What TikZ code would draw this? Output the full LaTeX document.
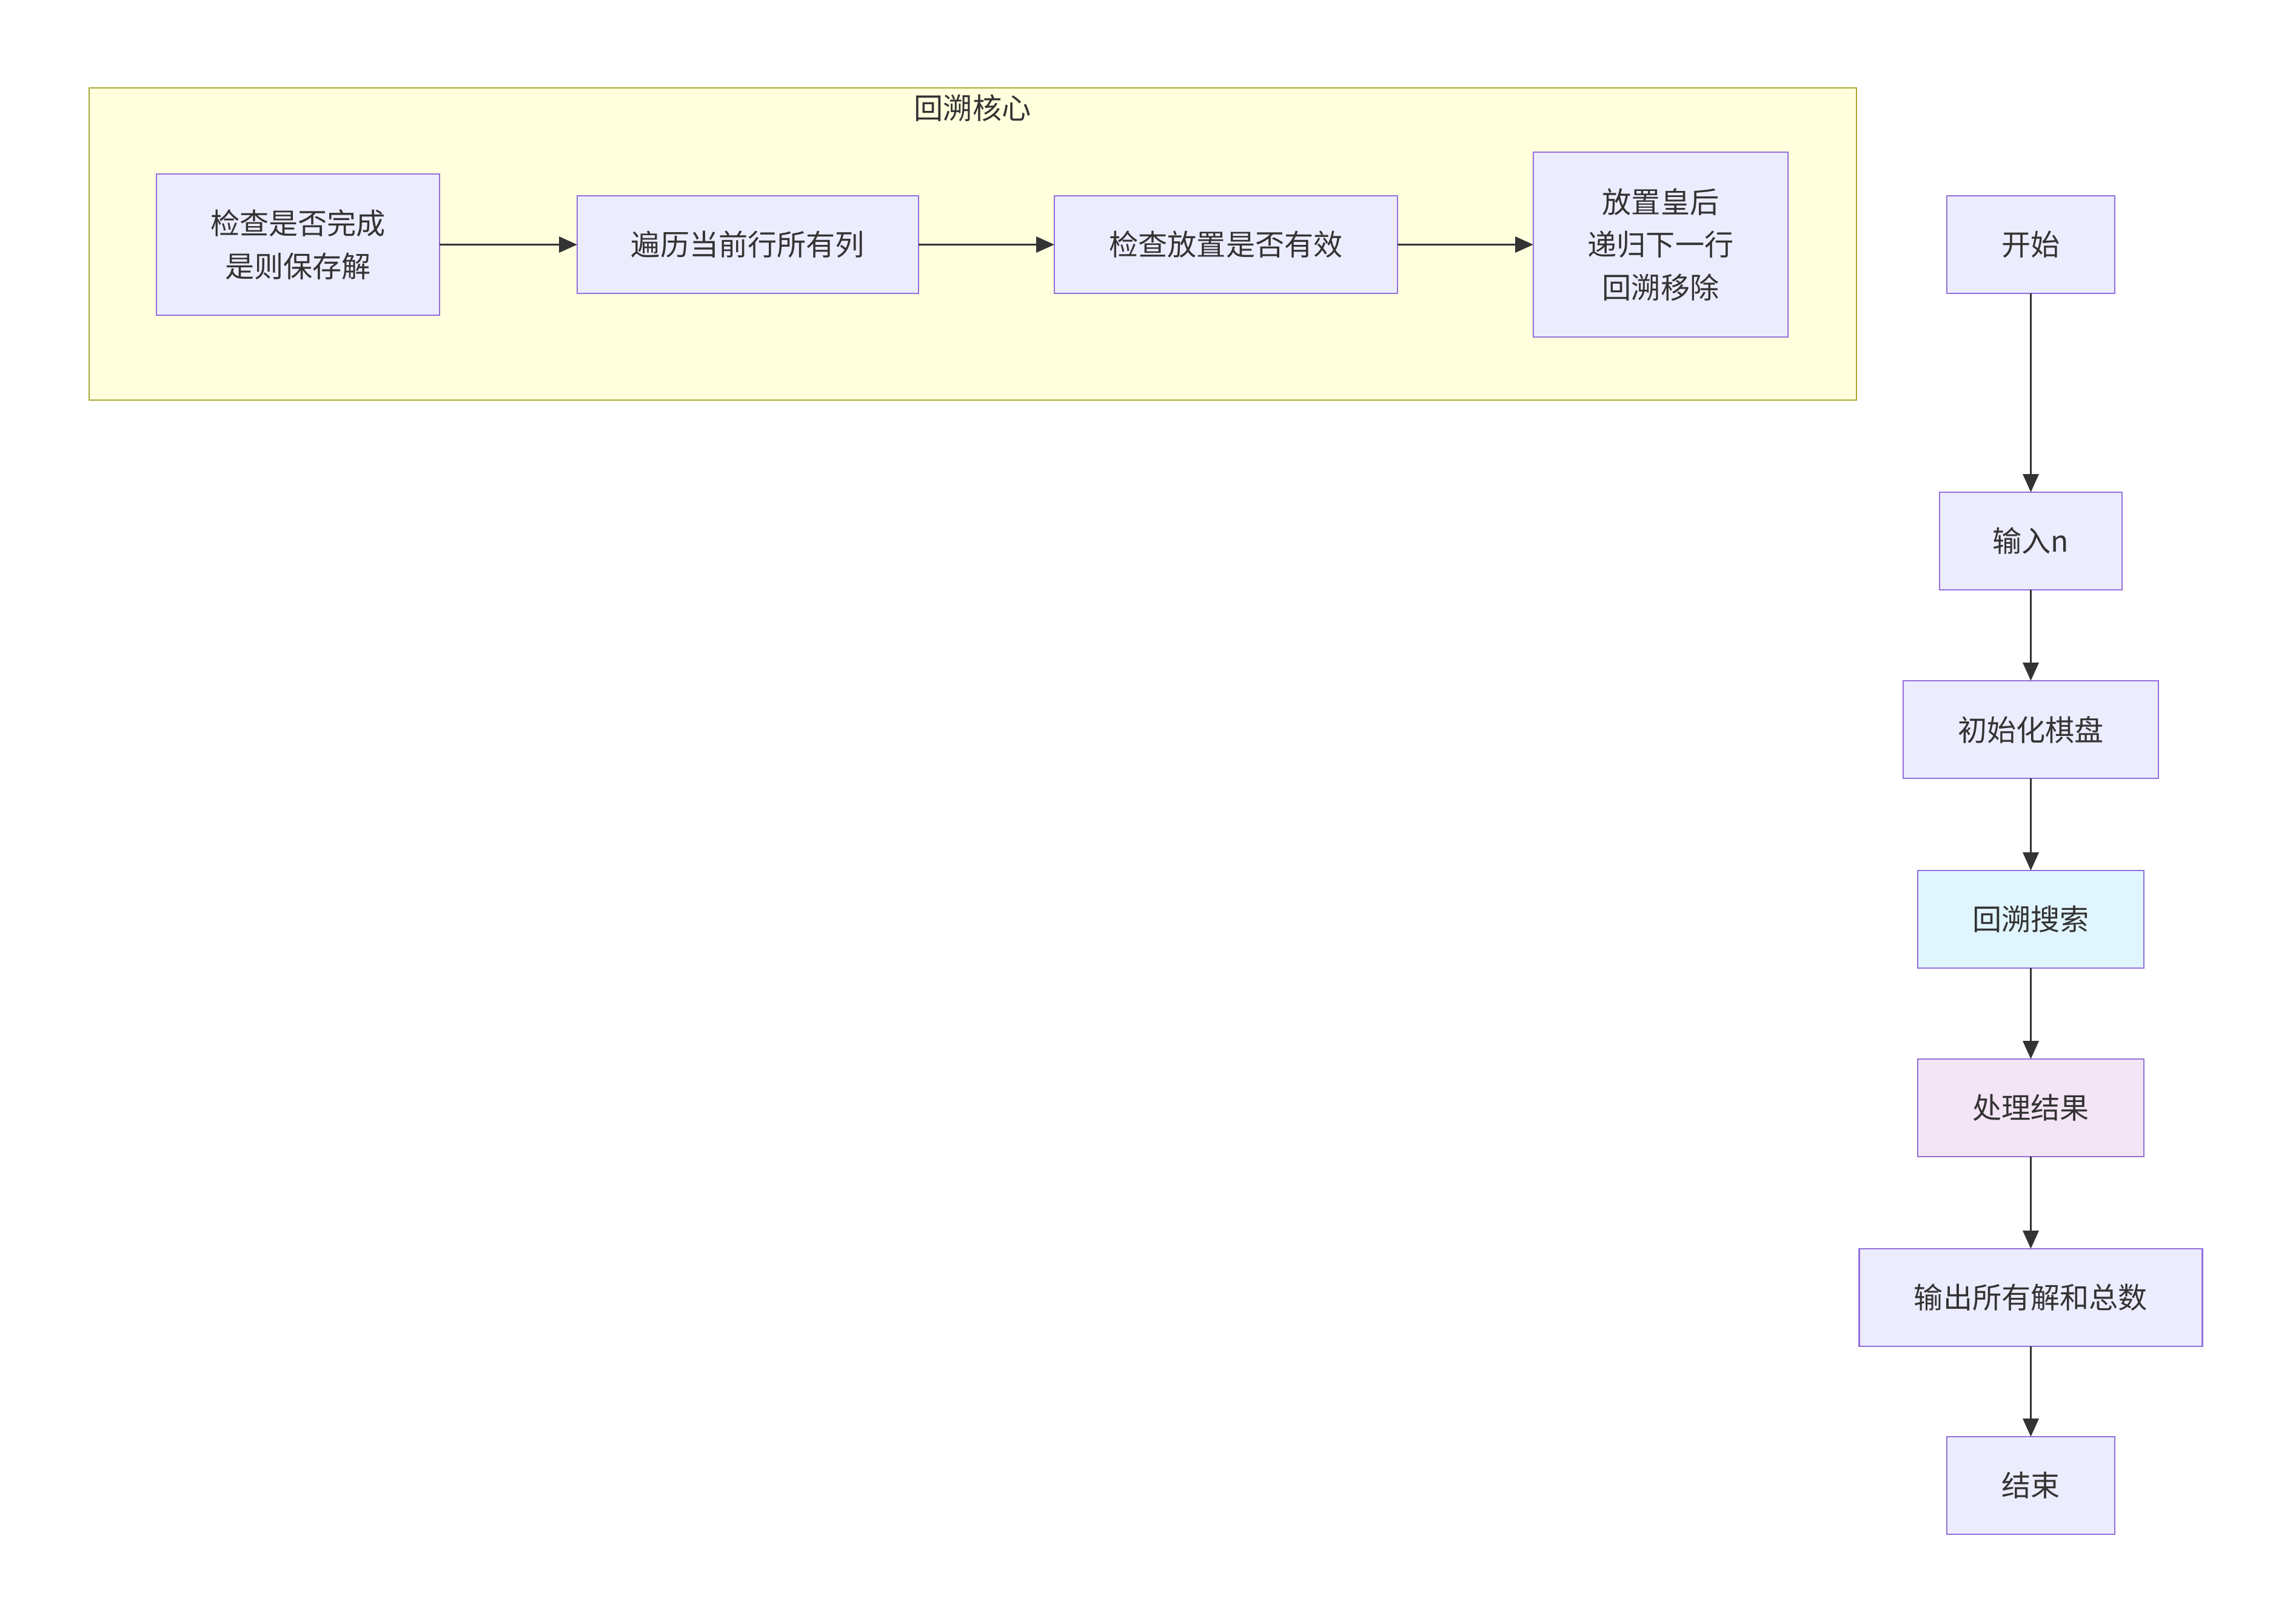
\documentclass[tikz,border=0pt]{standalone}
\usepackage{fontspec}
\newfontfamily\cjk{Noto Sans CJK SC}
\usepackage{xcolor}
\usepackage{tikz}
\usetikzlibrary{arrows.meta, positioning}

\definecolor{nodefill}{HTML}{ECECFF}
\definecolor{nodeline}{HTML}{9370DB}
\definecolor{clusterfill}{HTML}{FFFFDE}
\definecolor{clusterline}{HTML}{AAAA33}
\definecolor{searchfill}{HTML}{E1F5FE}
\definecolor{resultfill}{HTML}{F3E5F5}
\definecolor{ink}{HTML}{333333}

\begin{document}
\begin{tikzpicture}[
    box/.style={rectangle, draw=nodeline, fill=nodefill, line width=0.7pt,
                minimum height=1.61cm, align=center, text=ink, outer sep=0pt,
                font=\cjk\fontsize{13.7}{20}\selectfont},
    cluster/.style={rectangle, draw=clusterline, fill=clusterfill, line width=0.7pt},
    arr/.style={-{Triangle[length=0.3cm, width=0.26cm]}, line width=1.1pt, draw=ink}
]
    \useasboundingbox[fill=white] (0,0) rectangle (37.77,-26.79);

    % backtracking core
    \node[cluster, minimum width=29.15cm, minimum height=5.15cm] (core) at (16.045,-4.025) {};
    \node[text=ink, font=\cjk\fontsize{13.7}{20}\selectfont] (coretitle) at (16.04,-1.78) {回溯核心};

    \node[box, minimum width=4.67cm, minimum height=2.33cm] (check) at (4.915,-4.035) {检查是否完成\\是则保存解};
    \node[box, minimum width=5.63cm, right=2.27cm of check] (loop) {遍历当前行所有列};
    \node[box, minimum width=5.66cm, right=2.24cm of loop] (valid) {检查放置是否有效};
    \node[box, minimum width=4.20cm, minimum height=3.05cm, right=2.24cm of valid] (place) {放置皇后\\递归下一行\\回溯移除};

    \draw[arr] (check) -- (loop);
    \draw[arr] (loop) -- (valid);
    \draw[arr] (valid) -- (place);

    % main flow
    \node[box, minimum width=2.77cm] (start) at (33.495,-4.035) {开始};
    \node[box, minimum width=3.01cm, below=3.28cm of start] (input) {输入n};
    \node[box, minimum width=4.21cm, below=1.5cm of input] (init) {初始化棋盘};
    \node[box, minimum width=3.73cm, fill=searchfill, below=1.52cm of init] (search) {回溯搜索};
    \node[box, minimum width=3.73cm, fill=resultfill, below=1.5cm of search] (result) {处理结果};
    \node[box, minimum width=5.66cm, below=1.52cm of result] (output) {输出所有解和总数};
    \node[box, minimum width=2.77cm, below=1.49cm of output] (stop) {结束};

    \draw[arr] (start) -- (input);
    \draw[arr] (input) -- (init);
    \draw[arr] (init) -- (search);
    \draw[arr] (search) -- (result);
    \draw[arr] (result) -- (output);
    \draw[arr] (output) -- (stop);
\end{tikzpicture}
\end{document}
